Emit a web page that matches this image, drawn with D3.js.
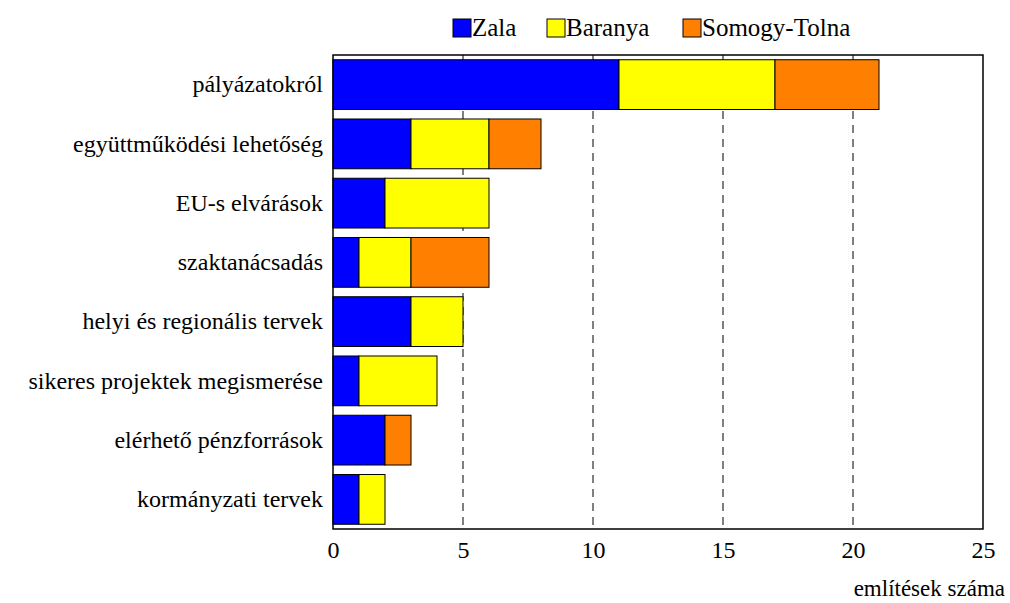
<!DOCTYPE html>
<html><head><meta charset="utf-8">
<script src="https://cdn.jsdelivr.net/npm/d3@7"></script>
<style>body{margin:0;background:#fff}svg{display:block}</style>
</head><body><svg id="c" width="1010" height="603"></svg>
<script>
const categories = ["pályázatokról","együttműködési lehetőség","EU-s elvárások","szaktanácsadás","helyi és regionális tervek","sikeres projektek megismerése","elérhető pénzforrások","kormányzati tervek"];
const seriesNames = ["Zala","Baranya","Somogy-Tolna"];
const zala = [11,3,2,1,3,1,2,1];
const baranya = [6,3,4,2,2,3,0,1];
const somogyTolna = [4,2,0,3,0,0,1,0];
const colors = ["#0000FF","#FFFF00","#FF8000"];
const xTicks = [0,5,10,15,20,25];
const xTitle = "említések száma";

const FONT = "Liberation Serif";
const svg = d3.select("#c");
const L=333,R=983,T=55,B=529;
const x = d3.scaleLinear().domain([0,25]).range([L,R]);
const y = d3.scaleBand().domain(categories).range([T,B]).paddingInner(0.16).paddingOuter(0.08);

svg.append("g").selectAll("line").data(xTicks.filter(d=>d>0&&d<25)).join("line")
  .attr("x1",d=>x(d)).attr("x2",d=>x(d)).attr("y1",T).attr("y2",B)
  .attr("stroke","#000").attr("stroke-width",1).attr("stroke-dasharray","8,6");

const stackData = categories.map((c,i)=>({c,"Zala":zala[i],"Baranya":baranya[i],"Somogy-Tolna":somogyTolna[i]}));
const stack = d3.stack().keys(seriesNames)(stackData);
svg.append("g").selectAll("g").data(stack).join("g").attr("fill",(d,i)=>colors[i])
  .selectAll("rect").data(d=>d.filter(s=>s[1]>s[0])).join("rect")
  .attr("x",d=>x(d[0])).attr("width",d=>x(d[1])-x(d[0]))
  .attr("y",d=>y(d.data.c)).attr("height",y.bandwidth())
  .attr("stroke","#000").attr("stroke-width",1);

svg.append("rect").attr("x",L).attr("y",T).attr("width",R-L).attr("height",B-T)
  .attr("fill","none").attr("stroke","#000").attr("stroke-width",1.5);

const xa = svg.append("g").attr("transform",`translate(0,${B})`)
  .call(d3.axisBottom(x).tickValues(xTicks).tickSize(0).tickPadding(12).tickFormat(d3.format("d")));
xa.select(".domain").remove();
xa.attr("font-family",null).attr("font-size",null);
xa.selectAll("text").attr("fill","#000").attr("font-size",24).attr("font-family",FONT).style("font-family","'Liberation Serif', serif");

const ya = svg.append("g").attr("transform",`translate(${L},0)`)
  .call(d3.axisLeft(y).tickSize(0).tickPadding(10));
ya.select(".domain").remove();
ya.attr("font-family",null).attr("font-size",null);
ya.selectAll("text").attr("fill","#000").attr("font-size",24).attr("font-family",FONT).style("font-family","'Liberation Serif', serif");

svg.append("text").attr("x",1005).attr("y",596).attr("text-anchor","end")
  .attr("font-family",FONT).style("font-family","'Liberation Serif', serif").attr("font-size",23).text(xTitle);

const leg = svg.append("g");
const items=[{n:"Zala",x:453},{n:"Baranya",x:547},{n:"Somogy-Tolna",x:683}];
items.forEach((it,i)=>{
  leg.append("rect").attr("x",it.x).attr("y",19).attr("width",18).attr("height",18).attr("fill",colors[i]).attr("stroke","#000");
  leg.append("text").attr("x",it.x+19).attr("y",36).attr("font-family",FONT).style("font-family","'Liberation Serif', serif").attr("font-size",25).text(it.n);
});
</script></body></html>
